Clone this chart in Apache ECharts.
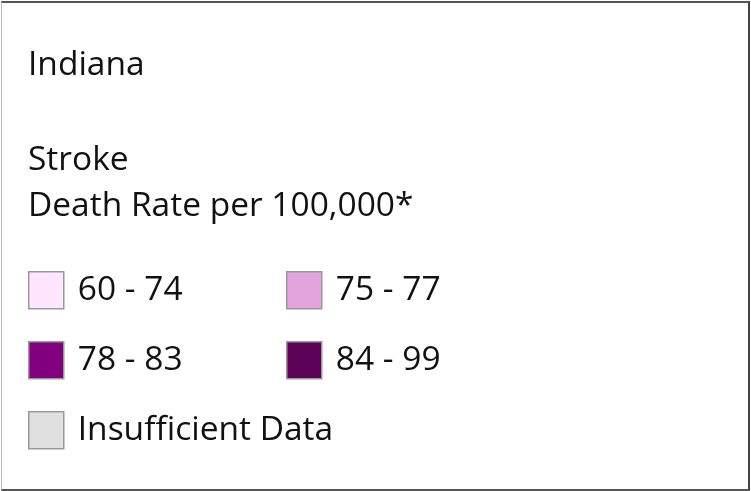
<!DOCTYPE html>
<html>
<head>
<meta charset="utf-8">
<script src="https://cdn.jsdelivr.net/npm/echarts@6/dist/echarts.min.js"></script>
<style>
  html, body { margin: 0; padding: 0; background: #fff; }
  #frame {
    position: absolute; left: 1px; top: 1px; width: 746px; height: 486px;
    border-top: 2px solid #555; border-right: 2px solid #444;
    border-bottom: 2px solid #555; border-left: 1px solid #bbb;
  }
  #chart { width: 746px; height: 486px; }
</style>
</head>
<body>
<div id="frame"><div id="chart"></div></div>
<script>
// legend bins
const stateName = "Indiana";
const subtitle = "Stroke\nDeath Rate per 100,000*";
const binLabels = ["60 - 74", "75 - 77", "78 - 83", "84 - 99", "Insufficient Data"];
const binColors = ["#ffe6ff", "#e3a3dd", "#800080", "#5c0058", "#e0e0e0"];

// where each legend entry sits (col, row)
const slots = [[0, 0], [1, 0], [0, 1], [1, 1], [0, 2]];

const font = "'Open Sans', sans-serif";
const ink = "#111";

const chart = echarts.init(document.getElementById("chart"));

const legends = binLabels.map((name, i) => ({
  data: [name],
  left: 26 + slots[i][0] * 258,
  top: 268 + slots[i][1] * 70,
  padding: 0,
  icon: "rect",
  itemWidth: 35,
  itemHeight: 37,
  selectedMode: false,
  itemStyle: { borderColor: "#999", borderWidth: 1.5, opacity: 1 },
  textStyle: { fontFamily: font, fontSize: 33.5, color: ink, padding: [5, 0, 0, 9] }
}));

chart.setOption({
  animation: false,
  title: [
    { text: stateName, left: 26, top: 45, padding: 0,
      textStyle: { fontFamily: font, fontSize: 33.5, fontWeight: "normal", color: ink } },
    { text: subtitle, left: 26, top: 134, padding: 0,
      textStyle: { fontFamily: font, fontSize: 33.5, fontWeight: "normal", color: ink, lineHeight: 46 } }
  ],
  legend: legends,
  xAxis: { show: false },
  yAxis: { show: false },
  series: binLabels.map((name, i) => ({
    name: name,
    type: "scatter",
    data: [],
    itemStyle: { color: binColors[i], opacity: 1 }
  }))
});
</script>
</body>
</html>
